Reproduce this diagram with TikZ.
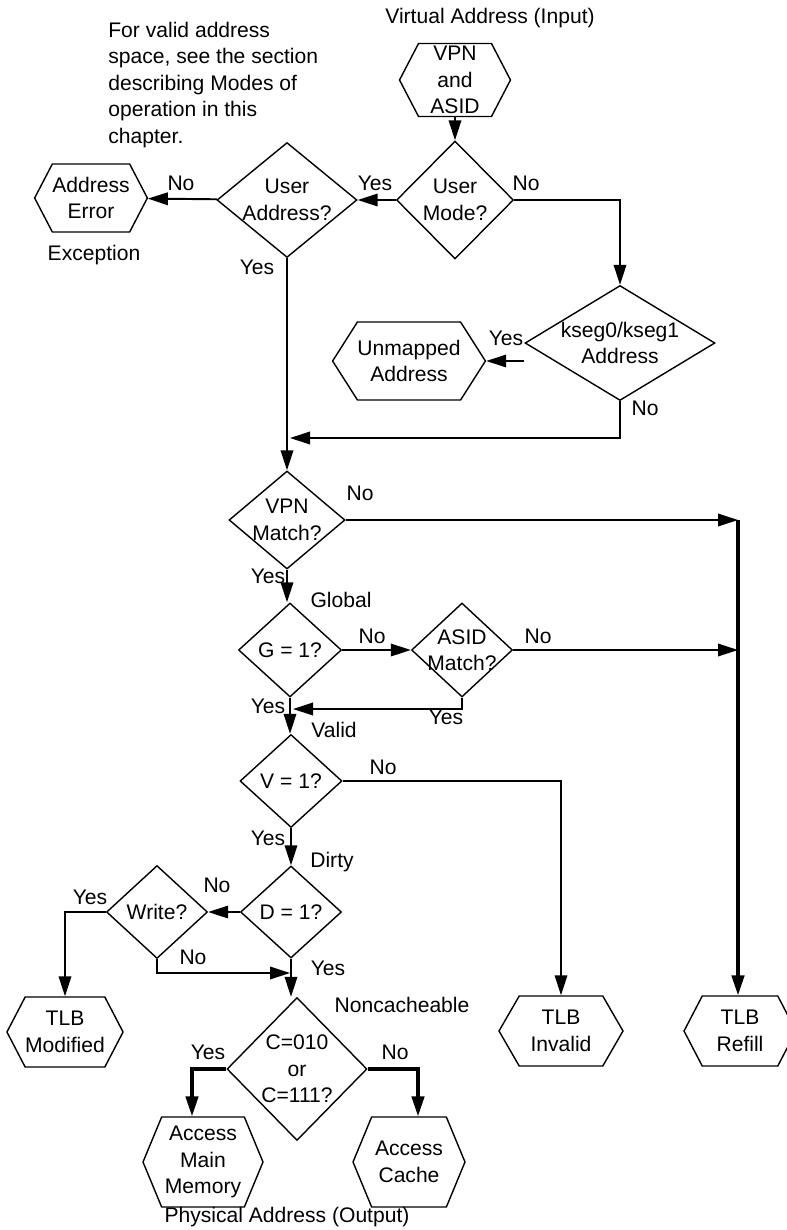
\documentclass[tikz,border=0pt]{standalone}
\usepackage{fontspec}
\setmainfont{Liberation Sans}
\usepackage{tikz}
\usetikzlibrary{arrows.meta, shapes.geometric, shapes.symbols}

\newcommand{\chartfont}{\fontsize{12}{15}\selectfont}

\begin{document}
\begin{tikzpicture}[
    x=0.02cm, y=-0.02cm,
    hexbox/.style={draw, signal, signal to=east and west, signal pointer angle=125,
        line width=0.8pt, inner sep=0pt, align=center, font=\chartfont},
    dia/.style={draw, diamond, inner sep=-5mm, line width=0.8pt, align=center, font=\chartfont},
    lbl/.style={inner sep=0pt, font=\chartfont},
    arrow/.style={line width=1.1pt, -{Triangle[length=4mm, width=2.5mm]}},
    thickarrow/.style={arrow, line width=1.8pt},
]
\useasboundingbox (0,0) rectangle (787,1230);

% Input and mode checks
\node[lbl] (title) at (490,18) {Virtual Address (Input)};
\node[lbl, align=left, anchor=north west] (note) at (108,22) {For valid address\\space, see the section\\describing Modes of\\operation in this\\chapter.};
\node[hexbox, minimum width=2.22cm, minimum height=1.46cm] (vpnin) at (455,80) {VPN\\and\\ASID};
\node[dia, minimum width=2.34cm, minimum height=2.36cm] (umode) at (455,200) {User\\Mode?};
\node[dia, minimum width=2.80cm, minimum height=2.30cm] (uaddr) at (287,200) {User\\Address?};
\node[hexbox, minimum width=2.22cm, minimum height=1.36cm] (aerr) at (91,198) {Address\\Error};
\node[lbl] (exc) at (94,255) {Exception};
\node[dia, minimum width=3.80cm, minimum height=2.30cm] (kseg) at (620,343) {kseg0/kseg1\\Address};
\node[hexbox, signal pointer angle=115, minimum width=3.04cm, minimum height=1.56cm] (unm) at (409,361) {Unmapped\\Address};

\draw[arrow] (vpnin) -- (umode);
\draw[arrow] (umode) -- (uaddr);
\draw[arrow] (uaddr) -- (aerr);
\draw[arrow] (umode.east) -| (kseg.north);
\draw[arrow] (kseg.west |- unm.east) -- (unm.east);
\coordinate (j1) at (290,438);
\draw[arrow] (kseg.south) |- (j1);

% TLB lookup
\node[dia, minimum width=2.32cm, minimum height=1.96cm] (vpnm) at (287,520) {VPN\\Match?};
\node[dia, minimum width=2.06cm, minimum height=1.88cm] (gone) at (290,650) {G = 1?};
\node[dia, minimum width=2.02cm, minimum height=1.88cm] (asid) at (462,650) {ASID\\Match?};
\node[dia, minimum width=2.04cm, minimum height=1.86cm] (vone) at (291,781) {V = 1?};
\node[dia, minimum width=2.02cm, minimum height=1.84cm] (done) at (291,912) {D = 1?};
\node[dia, minimum width=2.02cm, minimum height=1.86cm] (wr) at (157,912) {Write?};
\node[dia, minimum width=2.80cm, minimum height=2.86cm] (nc) at (297,1069) {C=010\\or\\C=111?};

\draw[arrow] (uaddr.south) -- (uaddr.south |- vpnm.north);
\coordinate (trunk) at (738,520);
\coordinate (trunk2) at (738,650);
\draw[arrow] (vpnm.east) -- (trunk);
\draw[arrow] (vpnm.south) -- (vpnm.south |- gone.north);
\draw[arrow] (gone.east) -- (asid.west);
\draw[arrow] (asid.east) -- (trunk2);
\coordinate (j2) at (293,709);
\draw[arrow] (asid.south) |- (j2);
\draw[arrow] (gone.south) -- (gone.south |- vone.north);
\draw[arrow] (vone.south) -- (vone.south |- done.north);
\draw[arrow] (done.west) -- (wr.east);
\coordinate (j3) at (290,973);
\draw[arrow] (wr.south) |- (j3);
\draw[arrow] (done.south) -- (done.south |- nc.north);

% Results
\node[hexbox, minimum width=2.24cm, minimum height=1.40cm] (tmod) at (65,1032) {TLB\\Modified};
\node[hexbox, signal pointer angle=120, minimum width=2.48cm, minimum height=1.40cm] (inval) at (561,1031) {TLB\\Invalid};
\node[hexbox, minimum width=2.24cm, minimum height=1.40cm] (refill) at (740,1031) {TLB\\Refill};
\node[hexbox, signal pointer angle=135, minimum width=2.40cm, minimum height=1.80cm] (amm) at (203,1162) {Access\\Main\\Memory};
\node[hexbox, signal pointer angle=135, minimum width=2.24cm, minimum height=1.80cm] (acache) at (409,1162) {Access\\Cache};
\node[lbl] (phys) at (287,1217) {Physical Address (Output)};

\draw[thickarrow] (trunk) -- (trunk |- refill.north);
\draw[arrow] (vone.east) -| (inval.north);
\draw[arrow] (wr.west) -| (tmod.north);
\draw[thickarrow] (nc.west) -| ([xshift=-0.22cm]amm.north);
\draw[thickarrow] (nc.east) -| ([xshift=0.18cm]acache.north);

% Branch labels
\node[lbl] (l1) at (375,183) {Yes};
\node[lbl] (l2) at (181,183) {No};
\node[lbl] (l3) at (526,183) {No};
\node[lbl] (l4) at (257,267) {Yes};
\node[lbl] (l5) at (506,338) {Yes};
\node[lbl] (l6) at (645,408) {No};
\node[lbl] (l7) at (360,493) {No};
\node[lbl] (l8) at (268,576) {Yes};
\node[lbl] (glob) at (341,600) {Global};
\node[lbl] (l9) at (372,636) {No};
\node[lbl] (l10) at (538,636) {No};
\node[lbl] (l11) at (268,706) {Yes};
\node[lbl] (l12) at (446,717) {Yes};
\node[lbl] (valid) at (334,730) {Valid};
\node[lbl] (l13) at (383,767) {No};
\node[lbl] (l14) at (268,838) {Yes};
\node[lbl] (dirty) at (332,862) {Dirty};
\node[lbl] (l15) at (217,885) {No};
\node[lbl] (l16) at (90,897) {Yes};
\node[lbl] (l17) at (193,957) {No};
\node[lbl] (l18) at (328,968) {Yes};
\node[lbl] (noncache) at (402,1005) {Noncacheable};
\node[lbl] (l19) at (208,1052) {Yes};
\node[lbl] (l20) at (395,1052) {No};

\end{tikzpicture}
\end{document}
